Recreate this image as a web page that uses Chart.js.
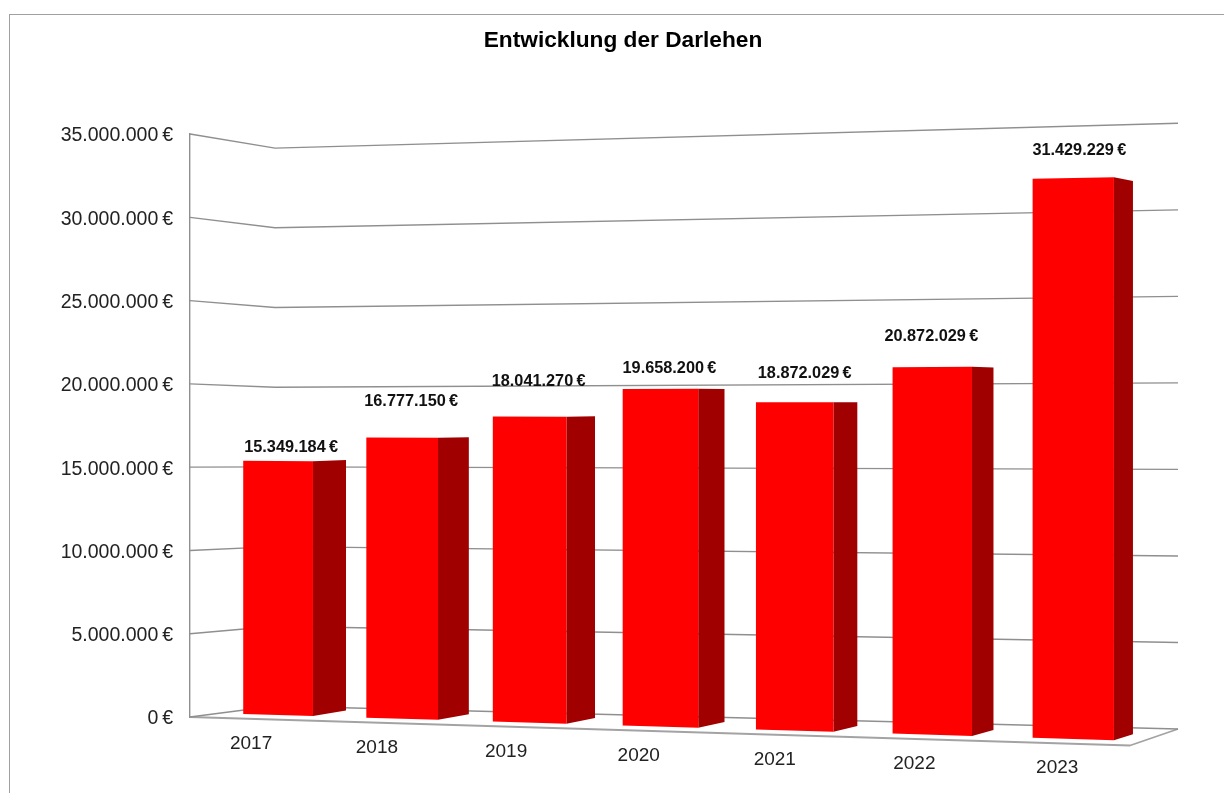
<!DOCTYPE html>
<html>
<head>
<meta charset="utf-8">
<title>Entwicklung der Darlehen</title>
<script src="https://cdn.jsdelivr.net/npm/chart.js@4/dist/chart.umd.js"></script>
<style>
  html, body { margin: 0; padding: 0; background: #fff; overflow: hidden; }
  #frame { position: absolute; left: 9px; top: 14px; width: 1300px; height: 900px; border: 1.5px solid #a0a0a0; }
  canvas { position: absolute; left: 0; top: 0; }
</style>
</head>
<body>
<div id="frame"></div>
<canvas id="chart" width="1224" height="793"></canvas>
<script>
const years = ['2017', '2018', '2019', '2020', '2021', '2022', '2023'];
const loans = [15349184, 16777150, 18041270, 19658200, 18872029, 20872029, 31429229];

// how far each value label sits from its bar (the original has them hand placed)
const labelShiftX = [13, 9, 9, 9, 10, -1, 6];
const labelLift = [13, 36, 35, 20, 29, 31, 28];

const fmt = new Intl.NumberFormat('de-DE');
const euro = v => fmt.format(v) + '\u2009€';

const FONT = '"Liberation Sans", Arial, sans-serif';
const GRID = '#8f8f8f';
const FLOOR = '#a3a3a3';
const FRONT = '#ff0000';
const SIDE = '#a00000';

// --- fake perspective, everything below maps scale pixels to the tilted view ---
const perspX = t => 217.2 + 0.855 * t + 0.000085 * t * t;
const barBottom = x => 715 + (x - 278) * 0.0302;
const barRatio = x => 0.9936 + (x - 278) * 0.00009818;
const wallBottom = x => 706 + (x - 275) * 0.02547;
const wallRatio = x => 0.957 + (x - 275) * 0.0000908;
const depth = (p) => ({ x: p.x + 0.0175 * (2200 - p.x), y: p.y + 0.0175 * (400 - p.y) });

const view3d = {
  id: 'view3d',
  afterLayout(chart) {
    // labels are wider than the axis box, widen it or they get clipped
    chart.scales.y.left = 40;
  },
  beforeDatasetsDraw(chart) {
    const { ctx, chartArea, scales } = chart;
    const y = scales.y;

    // floor
    ctx.save();
    ctx.strokeStyle = FLOOR;
    ctx.lineWidth = 1.8;
    ctx.lineJoin = 'round';
    ctx.beginPath();
    ctx.moveTo(chartArea.left, y.bottom);
    ctx.lineTo(1130, 745.5);
    ctx.lineTo(chartArea.right, wallBottom(chartArea.right));
    ctx.stroke();
    ctx.restore();

    // grid lines, left wall then back wall
    ctx.save();
    ctx.strokeStyle = GRID;
    ctx.lineWidth = 1.4;
    y.ticks.forEach(tick => {
      const py = y.getPixelForValue(tick.value);
      const h = y.bottom - py;
      ctx.beginPath();
      ctx.moveTo(chartArea.left, py);
      ctx.lineTo(275, wallBottom(275) - h * wallRatio(275));
      ctx.lineTo(chartArea.right, wallBottom(chartArea.right) - h * wallRatio(chartArea.right));
      ctx.stroke();
    });
    ctx.restore();
  },
  afterDatasetsDraw(chart) {
    const { ctx, chartArea, scales } = chart;
    const y = scales.y;
    const meta = chart.getDatasetMeta(0);

    meta.data.forEach((bar, i) => {
      const xl = perspX(bar.x - bar.width / 2 - chartArea.left);
      const xr = perspX(bar.x + bar.width / 2 - chartArea.left);
      const h = y.bottom - bar.y;
      const tl = { x: xl, y: barBottom(xl) - h * barRatio(xl) };
      const tr = { x: xr, y: barBottom(xr) - h * barRatio(xr) };
      const bl = { x: xl, y: barBottom(xl) };
      const br = { x: xr, y: barBottom(xr) };
      const tb = depth(tr);
      const bb = depth(br);

      ctx.fillStyle = SIDE;
      ctx.beginPath();
      ctx.moveTo(tr.x, tr.y);
      ctx.lineTo(tb.x, tb.y);
      ctx.lineTo(bb.x, bb.y);
      ctx.lineTo(br.x, br.y);
      ctx.closePath();
      ctx.fill();

      ctx.fillStyle = FRONT;
      ctx.beginPath();
      ctx.moveTo(tl.x, tl.y);
      ctx.lineTo(tr.x, tr.y);
      ctx.lineTo(br.x, br.y);
      ctx.lineTo(bl.x, bl.y);
      ctx.closePath();
      ctx.fill();

      const cx = (xl + xr) / 2;

      // value label
      ctx.fillStyle = '#111';
      ctx.font = 'bold 16.3px ' + FONT;
      ctx.textAlign = 'center';
      ctx.textBaseline = 'middle';
      ctx.fillText(euro(loans[i]), cx + labelShiftX[i], (tl.y + tr.y) / 2 - labelLift[i]);

      // year label, follows the floor
      ctx.fillStyle = '#222';
      ctx.font = '19px ' + FONT;
      ctx.fillText(years[i], cx - 27 + (cx - 278) * 0.0138, barBottom(cx) + 29);
    });
  }
};

new Chart(document.getElementById('chart'), {
  type: 'bar',
  data: {
    labels: years,
    datasets: [{
      data: loans,
      backgroundColor: 'transparent', // faces are drawn by view3d
      barPercentage: 0.57,
      categoryPercentage: 1
    }]
  },
  options: {
    responsive: false,
    animation: false,
    layout: { padding: { left: 68, right: 46, top: 0, bottom: 76 } },
    plugins: {
      legend: { display: false },
      tooltip: { enabled: false },
      title: {
        display: true,
        text: 'Entwicklung der Darlehen',
        color: '#000',
        font: { family: FONT, size: 22.7, weight: 'bold' },
        padding: { top: 27, bottom: 79.8 }
      }
    },
    scales: {
      x: { display: false },
      y: {
        min: 0,
        max: 35000000,
        afterFit: s => { s.width = 122; },
        grid: { display: false, drawTicks: false },
        border: { display: true, color: GRID, width: 1.4 },
        ticks: {
          stepSize: 5000000,
          padding: 17,
          labelOffset: 2,
          color: '#222',
          font: { family: FONT, size: 19.5 },
          callback: v => euro(v)
        }
      }
    }
  },
  plugins: [view3d]
});
</script>
</body>
</html>
